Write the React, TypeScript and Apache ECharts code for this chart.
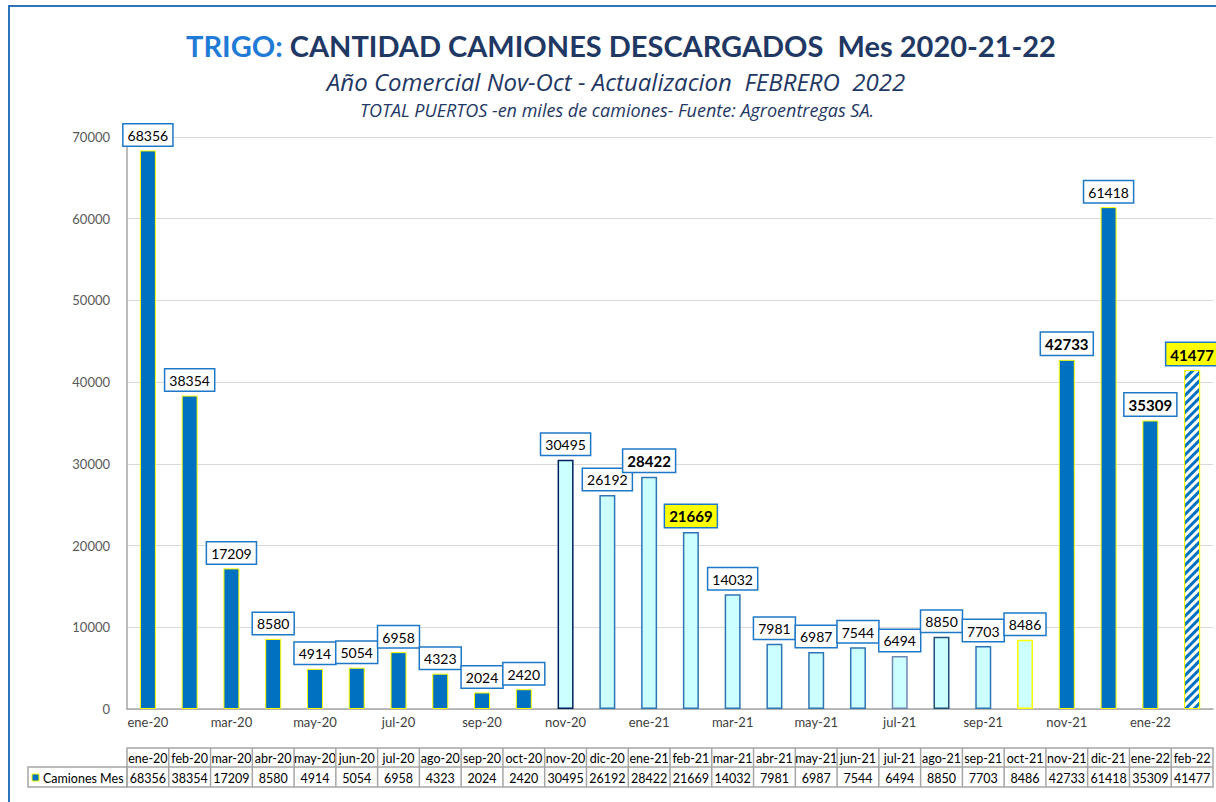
import React, { useEffect, useRef } from "react";
import * as echarts from "echarts";

const categories = [
  "ene-20", "feb-20", "mar-20", "abr-20", "may-20", "jun-20", "jul-20", "ago-20", "sep-20", "oct-20",
  "nov-20", "dic-20", "ene-21", "feb-21", "mar-21", "abr-21", "may-21", "jun-21", "jul-21", "ago-21",
  "sep-21", "oct-21", "nov-21", "dic-21", "ene-22", "feb-22",
];
const values = [
  68356, 38354, 17209, 8580, 4914, 5054, 6958, 4323, 2024, 2420,
  30495, 26192, 28422, 21669, 14032, 7981, 6987, 7544, 6494, 8850,
  7703, 8486, 42733, 61418, 35309, 41477,
];
const seriesName = "Camiones Mes";
const titleA = "TRIGO:";
const titleB = " CANTIDAD CAMIONES DESCARGADOS  Mes 2020-21-22";
const subtitle1 = "Año Comercial Nov-Oct - Actualizacion  FEBRERO  2022";
const subtitle2 = "TOTAL PUERTOS -en miles de camiones- Fuente: Agroentregas SA.";

const solidCats = ["ene-20", "feb-20", "mar-20", "abr-20", "may-20", "jun-20", "jul-20", "ago-20", "sep-20", "oct-20", "nov-21", "dic-21", "ene-22"];
const boldCats = ["ene-21", "feb-21", "nov-21", "ene-22", "feb-22"];
const yellowCats = ["feb-21", "feb-22"];
const borderOverrides: Record<string, string> = {
  "nov-20": "#002060",
  "jul-21": "#6F87B5",
  "ago-21": "#1F4E79",
  "oct-21": "#FFFF00",
};

const FONT = "Lato, 'Noto Sans', sans-serif";
const FONT2 = "'Open Sans', Lato, sans-serif";
const BLUE = "#0070C0";

function itemStyleFor(cat: string) {
  if (cat === "feb-22") {
    return {
      color: "#ffffff",
      borderColor: "#FFFF00",
      borderWidth: 1,
      decal: {
        symbol: "rect",
        symbolSize: 1,
        dashArrayX: [1, 0],
        dashArrayY: [3, 3],
        rotation: -Math.PI / 4,
        color: BLUE,
      },
    };
  }
  if (solidCats.includes(cat)) {
    return { color: BLUE, borderColor: "#FFFF00", borderWidth: 1 };
  }
  return { color: "#CCFFFF", borderColor: borderOverrides[cat] || "#2E75B6", borderWidth: 1.5 };
}

function labelFor(cat: string) {
  const bold = boldCats.includes(cat);
  return {
    show: true,
    position: "top",
    distance: 5,
    fontFamily: FONT,
    fontSize: bold ? 15 : 14,
    fontWeight: bold ? "bold" : "normal",
    color: "#000000",
    backgroundColor: yellowCats.includes(cat) ? "#FFFF00" : "#ffffff",
    borderColor: "#1E78C8",
    borderWidth: 1.5,
    padding: [4, 4, 3, 4],
  };
}

export default function App() {
  const ref = useRef<HTMLDivElement>(null);
  useEffect(() => {
    if (!ref.current) return;
    const chart = echarts.init(ref.current, undefined, { renderer: "svg" });
    const option: any = {
      animation: false,
      backgroundColor: "#ffffff",
      grid: { left: 127, right: 3, top: 137, bottom: 93, containLabel: false },
      xAxis: {
        type: "category",
        data: categories,
        axisLine: { lineStyle: { color: "#A6A6A6", width: 1.5 } },
        axisTick: { show: false },
        axisLabel: { interval: 1, color: "#404040", fontFamily: FONT, fontSize: 13, margin: 6 },
      },
      yAxis: {
        type: "value",
        min: 0,
        max: 70000,
        interval: 10000,
        axisLine: { show: true, lineStyle: { color: "#A6A6A6", width: 1.5 } },
        axisTick: { show: false },
        axisLabel: { color: "#595959", fontFamily: FONT, fontSize: 13, margin: 17, formatter: (v: number) => String(v) },
        splitLine: { lineStyle: { color: "#D9D9D9", width: 1 } },
      },
      series: [
        {
          type: "bar",
          name: seriesName,
          barWidth: 16,
          data: categories.map((c, i) => ({
            value: values[i],
            itemStyle: itemStyleFor(c),
            label: labelFor(c),
          })),
        },
      ],
    };
    chart.setOption(option);

    const xs = categories.map((c) => chart.convertToPixel({ xAxisIndex: 0 }, c) as number);
    const w = xs[1] - xs[0];
    const tLeft = xs[0] - w / 2;
    const tRight = xs[xs.length - 1] + w / 2;
    const r1 = 748, r2 = 767, r3 = 787;
    const gray = "#A6A6A6";
    const g: any[] = [];
    g.push({ type: "rect", shape: { x: 9, y: 6, width: 1220, height: 810 }, style: { fill: "none", stroke: "#2E75B6", lineWidth: 2 }, silent: true });
    g.push({
      type: "text",
      x: 621,
      y: 45,
      style: {
        text: `{a|${titleA}}{b|${titleB}}`,
        align: "center",
        verticalAlign: "middle",
        rich: {
          a: { fontFamily: FONT, fontSize: 29, fontWeight: "bold", fill: "#1F7BD6" },
          b: { fontFamily: FONT, fontSize: 29, fontWeight: "bold", fill: "#1F3864" },
        },
      },
    });
    g.push({ type: "text", x: 616, y: 81, style: { text: subtitle1, align: "center", verticalAlign: "middle", fontFamily: FONT2, fontSize: 24, fontStyle: "italic", fill: "#1F3864" } });
    g.push({ type: "text", x: 617, y: 110, style: { text: subtitle2, align: "center", verticalAlign: "middle", fontFamily: FONT2, fontSize: 18, fontStyle: "italic", fill: "#1F3864" } });
    g.push({ type: "rect", shape: { x: tLeft, y: r1, width: tRight - tLeft, height: r3 - r1 }, style: { fill: "none", stroke: gray, lineWidth: 1.5 } });
    g.push({ type: "rect", shape: { x: 28, y: r2, width: tLeft - 28, height: r3 - r2 }, style: { fill: "none", stroke: gray, lineWidth: 1.5 } });
    g.push({ type: "line", shape: { x1: tLeft, y1: r2, x2: tRight, y2: r2 }, style: { stroke: gray, lineWidth: 1.5 } });
    categories.forEach((c, i) => {
      if (i > 0) {
        g.push({ type: "line", shape: { x1: xs[i] - w / 2, y1: r1, x2: xs[i] - w / 2, y2: r3 }, style: { stroke: gray, lineWidth: 1.5 } });
      }
      g.push({ type: "text", x: xs[i], y: (r1 + r2) / 2 + 1, style: { text: c, align: "center", verticalAlign: "middle", fontFamily: FONT, fontSize: 12.5, fill: "#000" } });
      g.push({ type: "text", x: xs[i], y: (r2 + r3) / 2 + 1, style: { text: String(values[i]), align: "center", verticalAlign: "middle", fontFamily: FONT, fontSize: 12.5, fill: "#000" } });
    });
    g.push({ type: "rect", shape: { x: 32, y: (r2 + r3) / 2 - 3, width: 7, height: 7 }, style: { fill: BLUE, stroke: "#FFFF00", lineWidth: 1 } });
    g.push({ type: "text", x: 43, y: (r2 + r3) / 2 + 1, style: { text: seriesName, align: "left", verticalAlign: "middle", fontFamily: FONT, fontSize: 12.5, fill: "#000" } });
    chart.setOption({ graphic: g });

    return () => chart.dispose();
  }, []);
  return <div ref={ref} style={{ position: "fixed", left: 0, top: 0, width: 1216, height: 802 }} />;
}
